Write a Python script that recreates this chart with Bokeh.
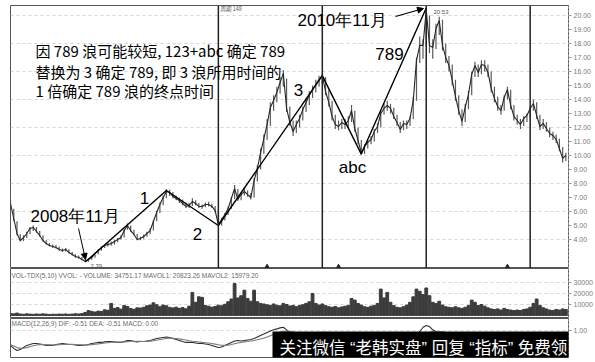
import pandas as pd
from bokeh.plotting import figure
from bokeh.layouts import column
from bokeh.models import (Range1d, Span, Label, Arrow, NormalHead, FixedTicker,
                          NumeralTickFormatter)
from bokeh.embed import file_html
from bokeh.resources import INLINE

# ---------------- data (weekly bars, 2008-05 .. 2011-09) ----------------
first_week = "2008-05-26"
n_weeks = 172

close = [
    6.57, 5.50, 4.43, 3.93, 4.14, 4.43, 4.79, 4.86, 4.57, 4.29,
    3.93, 3.71, 3.57, 3.50, 3.43, 3.29, 3.21, 3.29, 3.07, 2.93,
    2.79, 2.71, 2.57, 2.45, 2.57, 2.71, 3.00, 3.21, 3.43, 3.57,
    3.64, 3.71, 3.86, 4.00, 4.14, 4.64, 5.00, 4.64, 4.36, 4.00,
    4.07, 4.21, 4.43, 4.64, 5.29, 5.93, 6.50, 7.00, 7.43, 7.36,
    7.07, 6.93, 6.79, 6.57, 6.36, 6.43, 6.71, 6.57, 6.36, 6.36,
    6.50, 6.50, 6.36, 6.07, 5.07, 5.43, 5.79, 6.21, 6.93, 7.64,
    6.86, 7.21, 7.43, 7.21, 7.00, 8.21, 9.07, 10.21, 11.21, 12.21,
    13.43, 13.93, 14.50, 15.21, 15.86, 13.36, 12.36, 11.71, 12.21, 12.64,
    13.29, 13.79, 14.29, 14.71, 15.07, 15.43, 15.71, 14.57, 13.79, 12.79,
    12.21, 12.07, 12.36, 12.21, 12.50, 13.21, 11.93, 11.07, 10.21, 10.64,
    10.93, 11.14, 11.71, 12.07, 13.00, 13.36, 13.57, 13.36, 12.79, 12.36,
    11.86, 12.29, 12.21, 12.64, 13.93, 16.79, 17.86, 17.86, 20.36, 17.86,
    17.71, 19.07, 19.64, 17.86, 17.00, 16.43, 15.36, 14.21, 13.21, 12.43,
    13.43, 14.36, 15.79, 16.43, 15.93, 16.50, 16.43, 15.93, 14.79, 14.07,
    13.50, 13.21, 14.14, 14.71, 13.57, 12.79, 12.50, 12.21, 12.64, 12.86,
    13.36, 13.71, 12.86, 12.07, 12.29, 11.93, 11.57, 11.43, 11.14, 10.50,
    9.79, 10.00,
]
high = [
    6.85, 6.20, 5.30, 4.40, 4.30, 4.55, 4.90, 5.00, 4.90, 4.60,
    4.30, 3.95, 3.75, 3.65, 3.60, 3.50, 3.35, 3.40, 3.30, 3.10,
    2.95, 2.85, 2.75, 2.60, 2.65, 2.80, 3.05, 3.30, 3.50, 3.65,
    3.80, 3.85, 3.95, 4.10, 4.30, 4.75, 5.15, 5.00, 4.70, 4.40,
    4.20, 4.35, 4.55, 4.80, 5.40, 6.05, 6.65, 7.15, 7.60, 7.55,
    7.40, 7.15, 7.00, 6.85, 6.65, 6.60, 6.95, 6.80, 6.60, 6.50,
    6.65, 6.70, 6.55, 6.40, 6.10, 5.55, 5.90, 6.35, 7.05, 7.90,
    7.60, 7.35, 7.70, 7.50, 7.30, 8.40, 9.30, 10.50, 11.50, 12.60,
    13.80, 14.30, 14.90, 15.60, 16.10, 15.50, 13.50, 12.50, 12.50, 12.90,
    13.50, 14.10, 14.60, 15.00, 15.40, 15.70, 15.85, 15.60, 14.70, 13.90,
    12.90, 12.50, 12.60, 12.60, 12.80, 13.60, 13.20, 12.00, 11.10, 10.80,
    11.10, 11.40, 11.90, 12.30, 13.20, 13.70, 13.90, 13.70, 13.40, 12.90,
    12.40, 12.50, 12.50, 12.80, 14.20, 17.00, 18.50, 18.30, 20.53, 20.00,
    18.30, 19.40, 19.90, 19.70, 18.00, 17.10, 16.50, 15.40, 14.30, 13.30,
    13.70, 14.60, 16.00, 16.70, 16.50, 16.80, 16.80, 16.50, 16.00, 14.90,
    14.20, 13.60, 14.30, 14.90, 14.70, 13.60, 12.90, 12.60, 12.80, 13.00,
    13.50, 14.00, 13.80, 12.90, 12.60, 12.40, 12.00, 11.70, 11.50, 11.20,
    10.60, 10.20,
]
low = [
    6.20, 5.30, 4.30, 3.85, 3.90, 4.10, 4.40, 4.60, 4.50, 4.20,
    3.85, 3.65, 3.50, 3.40, 3.35, 3.20, 3.10, 3.15, 3.00, 2.85,
    2.70, 2.65, 2.50, 2.39, 2.42, 2.55, 2.70, 2.95, 3.20, 3.40,
    3.50, 3.55, 3.65, 3.80, 4.00, 4.15, 4.70, 4.55, 4.30, 3.95,
    3.95, 4.05, 4.20, 4.40, 4.65, 5.30, 5.90, 6.45, 6.95, 7.10,
    6.95, 6.80, 6.60, 6.45, 6.25, 6.25, 6.40, 6.45, 6.25, 6.20,
    6.30, 6.35, 6.25, 5.95, 4.98, 5.00, 5.35, 5.75, 6.20, 6.90,
    6.75, 6.80, 7.15, 7.05, 6.85, 7.00, 8.15, 9.00, 10.10, 11.10,
    12.10, 13.20, 13.80, 14.40, 14.90, 13.10, 12.10, 11.40, 11.60, 12.00,
    12.50, 13.10, 13.60, 14.10, 14.50, 14.90, 15.10, 14.30, 13.50, 12.50,
    11.90, 11.80, 11.90, 11.90, 12.00, 12.40, 11.70, 10.80, 10.05, 10.10,
    10.50, 10.80, 11.00, 11.60, 12.00, 12.90, 13.20, 13.00, 12.60, 12.10,
    11.60, 11.80, 11.90, 12.10, 12.60, 13.90, 16.60, 16.90, 17.80, 17.30,
    16.90, 17.60, 18.60, 17.50, 16.60, 16.00, 15.00, 13.90, 12.90, 12.10,
    12.40, 13.30, 14.30, 15.60, 15.60, 15.80, 16.00, 15.60, 14.50, 13.80,
    13.20, 12.90, 13.20, 14.00, 13.30, 12.50, 12.20, 11.90, 12.10, 12.40,
    12.70, 13.20, 12.60, 11.80, 11.90, 11.70, 11.30, 11.10, 10.90, 10.30,
    9.50, 9.60,
]
volume = [
    1800, 1500, 2200, 1400, 1200, 1500, 1300, 1100, 1400, 1200,
    1500, 1300, 1000, 1200, 1100, 1300, 1200, 1400, 1100, 1300,
    1600, 1400, 1800, 2800, 4500, 3800, 3200, 4000, 3600, 5200,
    4800, 11000, 6500, 7200, 5800, 9000, 8200, 6400, 5600, 7000,
    6800, 7500, 8800, 9500, 11500, 9800, 8000, 9500, 8800, 7400,
    6900, 7600, 6500, 7200, 6100, 8500, 21000, 12000, 17000, 16500,
    9000, 8500, 7600, 8200, 9400, 8800, 10200, 12500, 15000, 29000,
    16000, 18000, 23000, 15500, 13000, 23000, 12500, 11000, 10500, 9800,
    9000, 10500, 9400, 8800, 11000, 10000, 8700, 9200, 8000, 9000,
    9800, 11000, 12500, 20000, 11000, 9500, 10500, 9000, 8000, 7500,
    8200, 7000, 7800, 8500, 9000, 15500, 14000, 11000, 9500, 8000,
    7500, 8500, 9200, 11000, 24000, 16000, 21000, 12000, 9000, 7500,
    7000, 8000, 9500, 12000, 17000, 24000, 22000, 19000, 25000, 18000,
    12000, 11000, 13000, 9500, 8000, 7500, 7000, 8000, 7000, 6500,
    7500, 9000, 14000, 12000, 9000, 10000, 8500, 7000, 6000, 5500,
    6000, 5000, 6500, 5500, 5000, 4500, 5000, 4500, 5500, 6000,
    7500, 11000, 15000, 9000, 7000, 6000, 5000, 4500, 5500, 5000,
    6000, 5500,
]
dif = [
    -0.15, -0.38, -0.54, -0.46, -0.31, -0.15, -0.08, 0.00, 0.00, -0.04,
    -0.08, -0.15, -0.15, -0.15, -0.08, -0.04, 0.00, -0.04, -0.08, -0.08,
    -0.12, -0.15, -0.15, -0.12, -0.08, 0.00, 0.04, 0.08, 0.08, 0.12,
    0.15, 0.15, 0.12, 0.08, 0.08, 0.15, 0.23, 0.23, 0.15, 0.12,
    0.15, 0.15, 0.19, 0.23, 0.31, 0.38, 0.42, 0.46, 0.50, 0.46,
    0.38, 0.31, 0.23, 0.15, 0.08, 0.08, 0.08, 0.04, 0.00, 0.00,
    -0.04, -0.08, -0.15, -0.23, -0.31, -0.27, -0.15, -0.04, 0.08, 0.19,
    0.23, 0.19, 0.23, 0.27, 0.31, 0.38, 0.50, 0.62, 0.73, 0.85,
    0.95, 1.05, 1.12, 1.20, 1.25, 1.05, 0.80, 0.60, 0.50, 0.48,
    0.50, 0.55, 0.62, 0.70, 0.78, 0.82, 0.85, 0.75, 0.60, 0.42,
    0.28, 0.18, 0.12, 0.08, 0.08, 0.12, 0.02, -0.12, -0.28, -0.30,
    -0.30, -0.26, -0.18, -0.10, 0.05, 0.15, 0.22, 0.25, 0.22, 0.16,
    0.08, 0.06, 0.05, 0.08, 0.25, 0.60, 0.90, 1.25, 1.38, 1.30,
    1.05, 0.92, 0.90, 0.80, 0.65, 0.48, 0.30, 0.10, -0.12, -0.35,
    -0.38, -0.30, -0.12, 0.02, 0.10, 0.18, 0.20, 0.18, 0.08, -0.05,
    -0.18, -0.28, -0.28, -0.22, -0.25, -0.35, -0.42, -0.48, -0.46, -0.42,
    -0.35, -0.26, -0.28, -0.35, -0.38, -0.42, -0.46, -0.48, -0.50, -0.55,
    -0.60, -0.51,
]
dea = [
    -0.10, -0.20, -0.32, -0.38, -0.37, -0.32, -0.25, -0.18, -0.12, -0.09,
    -0.08, -0.10, -0.11, -0.12, -0.11, -0.10, -0.08, -0.07, -0.07, -0.07,
    -0.08, -0.10, -0.11, -0.12, -0.11, -0.09, -0.06, -0.03, 0.00, 0.03,
    0.06, 0.09, 0.10, 0.10, 0.10, 0.11, 0.14, 0.17, 0.17, 0.16,
    0.16, 0.15, 0.16, 0.18, 0.21, 0.25, 0.30, 0.34, 0.38, 0.41,
    0.40, 0.38, 0.35, 0.31, 0.26, 0.21, 0.17, 0.14, 0.11, 0.08,
    0.06, 0.03, 0.00, -0.05, -0.10, -0.14, -0.15, -0.13, -0.08, -0.02,
    0.04, 0.08, 0.12, 0.15, 0.19, 0.23, 0.28, 0.35, 0.42, 0.50,
    0.60, 0.70, 0.78, 0.86, 0.94, 0.96, 0.93, 0.87, 0.80, 0.74,
    0.70, 0.67, 0.66, 0.67, 0.69, 0.72, 0.74, 0.75, 0.72, 0.66,
    0.58, 0.50, 0.42, 0.35, 0.30, 0.26, 0.22, 0.15, 0.06, -0.02,
    -0.08, -0.12, -0.14, -0.13, -0.10, -0.05, 0.00, 0.05, 0.08, 0.10,
    0.10, 0.10, 0.09, 0.09, 0.12, 0.22, 0.36, 0.54, 0.72, 0.85,
    0.90, 0.91, 0.91, 0.89, 0.84, 0.77, 0.67, 0.56, 0.42, 0.26,
    0.13, 0.04, -0.01, -0.02, 0.00, 0.04, 0.08, 0.10, 0.10, 0.07,
    0.02, -0.04, -0.10, -0.14, -0.17, -0.21, -0.26, -0.31, -0.35, -0.37,
    -0.37, -0.35, -0.34, -0.34, -0.35, -0.37, -0.39, -0.42, -0.44, -0.47,
    -0.50, -0.51,
]

# Elliott-wave turning points: low, 1, 2, 3, abc, end of 789
wave_dates = ["2008-11-03", "2009-04-27", "2009-08-17", "2010-03-29", "2010-06-21", "2010-11-08"]
wave_prices = [2.39, 7.5, 5.0, 15.7, 10.1, 20.53]
# equal time spans: start of wave 3, end of wave 3, end of 789, next projection
cycle_dates = ["2009-08-17", "2010-03-29", "2010-11-08", "2011-06-20"]
signal_dates = ["2009-11-30", "2010-05-03", "2011-05-02"]

price_ticks = [4, 5, 6, 7, 8, 9, 10, 11, 12, 13, 14, 15, 16, 17, 18, 19, 20]
price_grid = [4, 6, 8, 10, 12, 14, 16, 18, 20]
volume_ticks = [10000, 20000, 30000]
macd_ticks = [1.0]

# ---------------- layout ----------------
weeks = pd.date_range(first_week, periods=n_weeks, freq="7D")
t0 = pd.Timestamp(first_week)
x_range = Range1d(start=t0, end=t0 + pd.Timedelta(days=7 * 171.8))
DAY = 86400000
SANS = "Liberation Sans"
CJK = "Noto Sans CJK SC"


def panel(height, y_range, top, bottom, ticks, fmt, grid):
    f = figure(width=595, height=height, x_axis_type="datetime", x_range=x_range,
               y_range=y_range, x_axis_location=None, y_axis_location="right",
               toolbar_location=None, output_backend="svg",
               min_border_left=10, min_border_right=27,
               min_border_top=top, min_border_bottom=bottom)
    f.outline_line_color = "#555555"
    f.outline_line_width = 1
    f.background_fill_color = "white"
    f.border_fill_color = "white"
    f.xgrid.grid_line_color = None
    f.ygrid.ticker = FixedTicker(ticks=grid)
    f.ygrid.grid_line_color = "#d4d4d4"
    f.ygrid.grid_line_dash = "3 3"
    ax = f.yaxis[0]
    ax.ticker = FixedTicker(ticks=ticks)
    ax.formatter = NumeralTickFormatter(format=fmt)
    ax.axis_line_color = "#999999"
    ax.axis_line_dash = "2 2"
    ax.major_tick_line_color = "#999999"
    ax.major_tick_in = 0
    ax.major_tick_out = 3
    ax.minor_tick_line_color = None
    ax.major_label_text_font = SANS
    ax.major_label_text_font_size = "7px"
    ax.major_label_text_color = "#7a7a7a"
    ax.major_label_standoff = 2
    return f


def note(f, text, sx, sy, size, font=SANS, color="black", align="left", **kw):
    f.add_layout(Label(x=sx, y=sy, x_units="screen", y_units="screen", text=text,
                       text_font=font, text_font_size=f"{size}px", text_color=color,
                       text_align=align, text_baseline="middle", **kw))


# ---------------- price panel ----------------
price = panel(268, Range1d(1.93, 20.71), 5, 0, price_ticks, "0.00", price_grid)
price.segment(x0=weeks, y0=low, x1=weeks, y1=high, line_color="#5a5a5a", line_width=1.2)
price.line(weeks, close, line_color="#262626", line_width=1.1)
price.line(pd.to_datetime(wave_dates), wave_prices, line_color="black", line_width=1.4)
price.scatter(pd.to_datetime(signal_dates), [2.07] * len(signal_dates), marker="triangle",
              size=4, color="#222222")
for d in cycle_dates:
    price.add_layout(Span(location=pd.Timestamp(d).timestamp() * 1000, dimension="height",
                          line_color="#222222", line_width=1.5))

note(price, "因 789 浪可能较短, 123+abc 确定 789", 25, 218, 15, font=CJK)
note(price, "替换为 3 确定 789, 即 3 浪所用时间的", 25, 197, 15, font=CJK)
note(price, "1 倍确定 789 浪的终点时间", 25, 178, 15, font=CJK)

note(price, "2008年11月", 20, 52, 17)
note(price, "2010年11月", 287, 248, 17)
note(price, "1", 134, 71, 17, align="center")
note(price, "2", 187, 35, 17, align="center")
note(price, "3", 288, 179, 17, align="center")
note(price, "abc", 342, 101, 17, align="center")
note(price, "789", 379, 215, 17, align="center")
note(price, f"{low[23]:.2f}", 80, 3, 6, color="#555555")
note(price, f"{high[128]:.2f}", 423, 257, 6, color="#555555")
note(price, "周期 148", 210, 260, 5.5, font=CJK, color="#555555")

price.add_layout(Arrow(end=NormalHead(size=6, fill_color="black", line_color="black"),
                       x_start=68, y_start=40, x_end=75, y_end=9,
                       start_units="screen", end_units="screen",
                       line_color="black", line_width=1))
price.add_layout(Arrow(end=NormalHead(size=6, fill_color="black", line_color="black"),
                       x_start=385, y_start=252, x_end=413, y_end=260,
                       start_units="screen", end_units="screen",
                       line_color="black", line_width=1.2))

# ---------------- volume panel ----------------
vol = panel(50, Range1d(-2700, 42700), 0, 0, volume_ticks, "0", volume_ticks)
vol.vbar(x=weeks, top=volume, bottom=0, width=6 * DAY, color="#3c3c3c")
note(vol, "VOL-TDX(5,10) VVOL: -   VOLUME: 34751.17  MAVOL1: 20823.26  MAVOL2: 15979.20",
     1, 43, 6.5, color="#6a6a6a")
note(vol, "X10", 560, 5, 6, color="#6a6a6a", border_line_color="#8a8a8a")

# ---------------- MACD panel ----------------
macd = panel(44, Range1d(-1.08, 1.92), 0, 5, macd_ticks, "0.00", macd_ticks)
macd.line(weeks, dif, line_color="#2e2e2e", line_width=1.1)
macd.line(weeks, dea, line_color="#7a7a7a", line_width=1.1)
note(macd, "MACD(12,26,9) DIF: -0.51  DEA: -0.51  MACD: 0.00", 1, 34, 6.5, color="#6a6a6a")
note(macd, "关注微信 “老韩实盘” 回复 “指标” 免费领", 262, 10, 16.5,
     font="Liberation Sans, Noto Sans CJK SC",
     color="white", background_fill_color="black", padding=7)

layout = column(price, vol, macd, spacing=0)
open("out.html", "w").write(file_html(layout, INLINE))
